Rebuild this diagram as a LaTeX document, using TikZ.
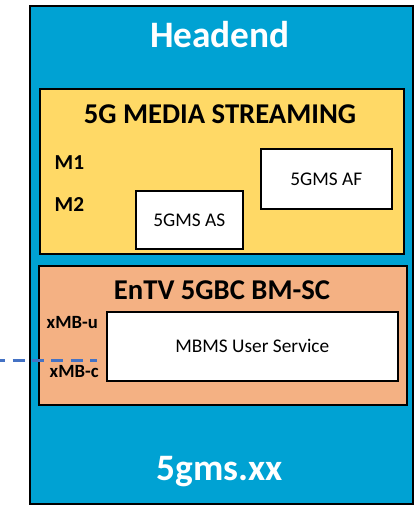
\documentclass[tikz,border=0pt]{standalone}
\usepackage{fontspec}
\setmainfont{Carlito}
\usepackage{xcolor}
\usepackage{tikz}
\usetikzlibrary{positioning}

\definecolor{headblue}{HTML}{00A2D3}
\definecolor{msyellow}{HTML}{FFD966}
\definecolor{bmorange}{HTML}{F4B183}
\definecolor{linkblue}{HTML}{4472C4}

\begin{document}
\begin{tikzpicture}[
            x=0.75pt, y=-0.75pt,
            panel/.style   ={rectangle, draw=black, line width=1.2pt, anchor=north west,
                             inner sep=0pt},
            entity/.style  ={rectangle, draw=black, line width=1.2pt, fill=white, anchor=north west,
                             inner sep=0pt, font=\fontsize{14.5}{16}\selectfont},
            bigtitle/.style={text=white, font=\bfseries\fontsize{28}{32}\selectfont},
            boxtitle/.style={font=\bfseries\fontsize{21.5}{24}\selectfont},
            iface/.style   ={anchor=west, font=\bfseries\fontsize{16}{18}\selectfont},
            ifacesm/.style ={anchor=west, font=\bfseries\fontsize{14}{16}\selectfont},
            link/.style    ={linkblue, line width=2.25pt, dash pattern=on 9pt off 5.5pt, dash phase=5pt}
        ]
            \useasboundingbox (0,0) rectangle (414,516);

            % --- Contenedores ---
            \node[panel, fill=headblue, minimum width=383*0.75pt, minimum height=498*0.75pt] (headend) at (29,5) {};
            \node[panel, fill=msyellow, minimum width=364*0.75pt, minimum height=165*0.75pt] (gms)     at (39,88) {};
            \node[panel, fill=bmorange, minimum width=368*0.75pt, minimum height=139*0.75pt] (bmsc)    at (38,265) {};

            % --- Titulos ---
            \node[bigtitle] (headendlbl) at (220,35)  {Headend};
            \node[boxtitle] (gmslbl)     at (220,114) {5G MEDIA STREAMING};
            \node[boxtitle] (bmsclbl)    at (222,290) {EnTV 5GBC BM-SC};
            \node[bigtitle] (domainlbl)  at (220,472) {5gms.xx};

            % --- Funciones ---
            \node[entity, minimum width=131*0.75pt, minimum height=60*0.75pt] (af)   at (260,148) {5GMS AF};
            \node[entity, minimum width=107*0.75pt, minimum height=58*0.75pt] (as)   at (135,190) {5GMS AS};
            \node[entity, minimum width=291*0.75pt, minimum height=69*0.75pt] (mbms) at (106,311) {MBMS User Service};

            % --- Interfaces ---
            \node[iface]   (m1)   at (50,163) {M1};
            \node[iface]   (m2)   at (50,205) {M2};
            \node[ifacesm] (xmbu) at (42,323) {xMB-u};
            \node[ifacesm] (xmbc) at (45,372) {xMB-c};

            % --- Enlace externo ---
            \coordinate (outside) at (0,360);
            \coordinate (xmbend)  at (97,360);
            \draw[link] (outside) -- (xmbend);

        \end{tikzpicture}
\end{document}
